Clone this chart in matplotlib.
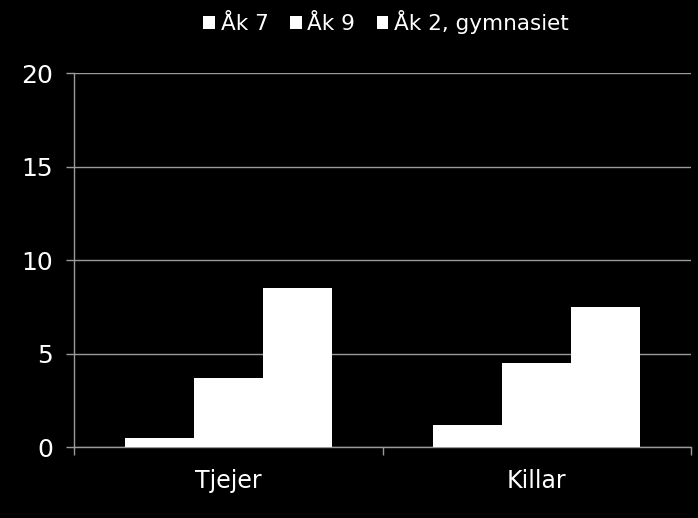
import matplotlib
matplotlib.use("Agg")
import matplotlib.pyplot as plt
import numpy as np
from matplotlib.patches import Patch

categories = ["Tjejer", "Killar"]
series_names = ["Åk 7", "Åk 9", "Åk 2, gymnasiet"]
ak7 = [0.5, 1.2]
ak9 = [3.7, 4.5]
ak2_gym = [8.5, 7.5]
yticks = [0, 5, 10, 15, 20]

GRID = "#9a9a9a"

fig = plt.figure(figsize=(6.98, 5.18), dpi=100, facecolor="black")
ax = fig.add_axes([0.106, 0.137, 0.884, 0.722], facecolor="black")

x = np.arange(len(categories))
w = 0.224
for i, vals in enumerate([ak7, ak9, ak2_gym]):
    ax.bar(x + (i - 1) * w, vals, width=w, color="white", edgecolor="none",
           zorder=3)

ax.set_ylim(0, 20)
ax.set_xlim(-0.5, len(categories) - 0.5)
ax.set_yticks(yticks)
ax.yaxis.grid(True, color=GRID, linewidth=1.0, zorder=0)

ax.set_xticks(np.arange(-0.5, len(categories), 1.0))
ax.set_xticklabels([])
ax.set_xticks(x, minor=True)
ax.set_xticklabels(categories, minor=True)
ax.tick_params(axis="x", which="major", length=6, width=1, color=GRID,
               direction="out")
ax.tick_params(axis="x", which="minor", length=0, pad=16, labelsize=17,
               labelcolor="white")
ax.tick_params(axis="y", length=6, width=1, color=GRID, pad=9,
               labelsize=18, labelcolor="white")

for side in ("top", "right"):
    ax.spines[side].set_visible(False)
for side in ("left", "bottom"):
    ax.spines[side].set_color(GRID)
    ax.spines[side].set_linewidth(1.0)

handles = [Patch(facecolor="white", edgecolor="none") for _ in series_names]
fig.legend(handles, series_names, loc="center", bbox_to_anchor=(0.553, 0.958),
           ncol=3, frameon=False, fontsize=15.5, labelcolor="white",
           handlelength=0.55, handleheight=0.55, handletextpad=0.25,
           columnspacing=1.0)

fig.savefig("out.png", dpi=100, facecolor="black")
